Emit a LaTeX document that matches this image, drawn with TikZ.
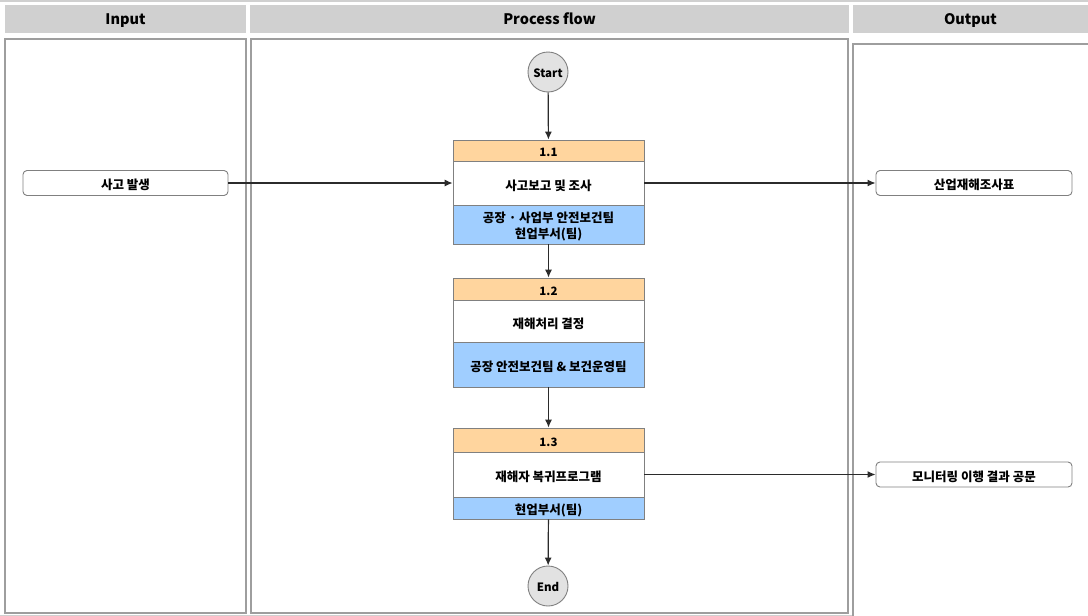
\documentclass[tikz,border=0pt]{standalone}
\usepackage{fontspec}
\setmainfont{Noto Sans CJK KR}
\usetikzlibrary{arrows.meta}
\definecolor{hdrgray}{HTML}{D0D0D0}
\definecolor{lanegray}{HTML}{9E9E9E}
\definecolor{boxgray}{HTML}{808080}
\definecolor{steporange}{HTML}{FFD59E}
\definecolor{stepblue}{HTML}{A0CEFF}
\definecolor{circfill}{HTML}{E2E2E2}
\definecolor{flowline}{HTML}{2B2B2B}
% lower a label a little without changing the space it takes
\newcommand{\lowtext}[2][2.5pt]{\raisebox{-#1}[\height][\depth]{#2}}
\newcommand{\twolines}[2]{\lowtext[3pt]{\begin{tabular}{@{}c@{}}#1\\#2\end{tabular}}}
\tikzset{
  lanehdr/.style={fill=hdrgray, draw=none, inner sep=0pt, text height=12pt, text depth=1pt, font=\bfseries\fontsize{14.5}{16}\selectfont},
  lanebox/.style={draw=lanegray, line width=1.2pt, fill=white},
  term/.style={circle, draw=boxgray, line width=0.9pt, fill=circfill, minimum size=40pt, inner sep=0pt, font=\bfseries\fontsize{11.5}{13}\selectfont},
  stepbase/.style={draw=boxgray, line width=0.8pt, minimum width=191pt, inner sep=0pt, font=\bfseries\fontsize{12.5}{16}\selectfont, align=center},
  stephead/.style={stepbase, fill=steporange, font=\bfseries\fontsize{11.5}{13}\selectfont},
  stepbody/.style={stepbase, fill=white},
  stepfoot/.style={stepbase, fill=stepblue},
  iobox/.style={draw=boxgray, line width=0.9pt, rounded corners=4pt, fill=white, minimum width=196pt, minimum height=25pt, inner sep=0pt, font=\bfseries\fontsize{12.5}{14}\selectfont},
  flow/.style={draw=flowline, line width=1.2pt, -{Latex[length=8pt,width=7pt]}}
}
\begin{document}
\begin{tikzpicture}[x=1pt,y=-1pt]
\useasboundingbox (0,0) rectangle (1088,616);
% frame lines
\draw[hdrgray, line width=1.5pt] (0,0.75) -- (1088,0.75);
\draw[hdrgray, line width=1.5pt] (0,615.25) -- (1088,615.25);
% lane headers
\node[lanehdr, minimum width=241pt, minimum height=28pt] (hin) at (125.5,19) {Input};
\node[lanehdr, minimum width=599pt, minimum height=28pt] (hpf) at (549.5,19) {Process flow};
\node[lanehdr, minimum width=235pt, minimum height=28pt] (hout) at (970.5,19) {Output};
% lane bodies
\draw[lanebox] (5,39) rectangle (246,613);
\draw[lanebox] (251,39) rectangle (848,613);
\draw[lanebox] (853,44) rectangle (1092,620);
% terminals
\node[term] (start) at (548,72) {\lowtext[1pt]{Start}};
\node[term] (end) at (548,586) {\lowtext[1pt]{End}};
% step 1.1
\node[stephead, minimum height=21pt] (h11) at (548.5,150.5) {\lowtext[2pt]{1.1}};
\node[stepbody, minimum height=44pt] (b11) at (548.5,183) {\lowtext{사고보고 및 조사}};
\node[stepfoot, minimum height=39pt] (f11) at (548.5,224.5) {\twolines{공장 · 사업부 안전보건팀}{현업부서(팀)}};
% step 1.2
\node[stephead, minimum height=22pt] (h12) at (548.5,289) {\lowtext[2pt]{1.2}};
\node[stepbody, minimum height=42pt] (b12) at (548.5,321) {\lowtext{재해처리 결정}};
\node[stepfoot, minimum height=45pt] (f12) at (548.5,364.5) {\lowtext{공장 안전보건팀 \& 보건운영팀}};
% step 1.3
\node[stephead, minimum height=24pt] (h13) at (548.5,440) {\lowtext[2pt]{1.3}};
\node[stepbody, minimum height=45pt] (b13) at (548.5,474.5) {\lowtext{재해자 복귀프로그램}};
\node[stepfoot, minimum height=22pt] (f13) at (548.5,508) {\lowtext{현업부서(팀)}};
% inputs and outputs
\node[iobox, minimum width=205pt] (in1) at (125.5,183) {\lowtext[2pt]{사고 발생}};
\node[iobox] (out1) at (974,183) {\lowtext[2pt]{산업재해조사표}};
\node[iobox] (out2) at (974,474.5) {\lowtext[2pt]{모니터링 이행 결과 공문}};
% connectors
\draw[flow] (start) -- (h11);
\draw[flow] (f11) -- (h12);
\draw[flow] (f12) -- (h13);
\draw[flow] (f13) -- (end);
\draw[flow] (in1) -- (b11);
\draw[flow] (b11) -- (out1);
\draw[flow] (b13) -- (out2);
\end{tikzpicture}
\end{document}
